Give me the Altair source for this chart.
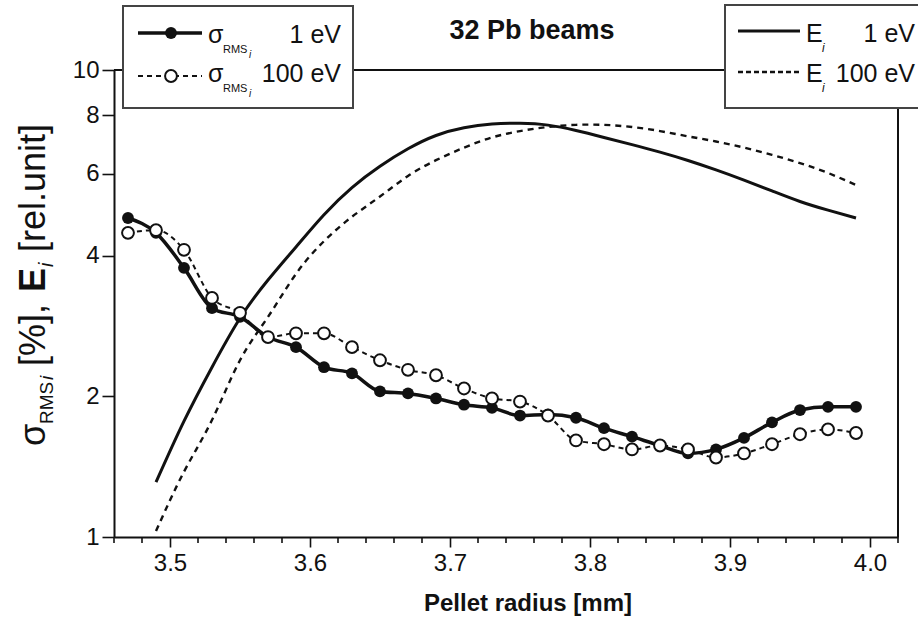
import altair as alt
import pandas as pd

# ---------------- data ----------------
radius_sigma = [3.47, 3.49, 3.51, 3.53, 3.55, 3.57, 3.59, 3.61, 3.63, 3.65, 3.67, 3.69, 3.71, 3.73,
                3.75, 3.77, 3.79, 3.81, 3.83, 3.85, 3.87, 3.89, 3.91, 3.93, 3.95, 3.97, 3.99]
sigma_1eV = [4.82, 4.48, 3.77, 3.09, 2.96, 2.68, 2.55, 2.31, 2.24, 2.05, 2.03, 1.98, 1.92, 1.89,
             1.82, 1.83, 1.80, 1.71, 1.64, 1.57, 1.51, 1.54, 1.63, 1.76, 1.87, 1.90, 1.90]
sigma_100eV = [4.48, 4.54, 4.12, 3.25, 3.02, 2.68, 2.73, 2.73, 2.55, 2.39, 2.28, 2.22, 2.08, 1.98,
               1.95, 1.82, 1.61, 1.58, 1.54, 1.57, 1.54, 1.48, 1.51, 1.58, 1.66, 1.70, 1.67]

radius_E = [3.49, 3.51, 3.53, 3.55, 3.57, 3.59, 3.61, 3.63, 3.65, 3.67, 3.69, 3.71, 3.73,
            3.75, 3.77, 3.79, 3.81, 3.83, 3.85, 3.87, 3.89, 3.91, 3.93, 3.95, 3.97, 3.99]
E_1eV = [1.31, 1.77, 2.31, 2.94, 3.55, 4.18, 4.90, 5.60, 6.22, 6.78, 7.24, 7.52, 7.66,
         7.69, 7.62, 7.42, 7.17, 6.92, 6.67, 6.40, 6.11, 5.81, 5.51, 5.23, 5.01, 4.82]
E_100eV = [1.03, 1.38, 1.78, 2.39, 2.96, 3.66, 4.30, 4.85, 5.36, 5.93, 6.41, 6.82, 7.17,
           7.40, 7.55, 7.63, 7.63, 7.55, 7.40, 7.21, 7.03, 6.82, 6.58, 6.32, 6.02, 5.67]

x_ticks = [3.46, 3.48, 3.50, 3.52, 3.54, 3.56, 3.58, 3.60, 3.62, 3.64, 3.66, 3.68, 3.70, 3.72, 3.74,
           3.76, 3.78, 3.80, 3.82, 3.84, 3.86, 3.88, 3.90, 3.92, 3.94, 3.96, 3.98, 4.00, 4.02]
x_major = [3.5, 3.6, 3.7, 3.8, 3.9, 4.0]
y_ticks = [1, 2, 4, 6, 8, 10]

# ---------------- style ----------------
FONT = "Liberation Sans, Arial, sans-serif"
INK = "#111111"
OX, OY = 114, 70          # plot-area origin inside the 918x621 page
W, H = 784, 467


def px(x):
    return x - OX


def py(y):
    return y - OY


sig = pd.DataFrame({"r": radius_sigma, "s1": sigma_1eV, "s100": sigma_100eV})
edf = pd.DataFrame({"r": radius_E, "e1": E_1eV, "e100": E_100eV})
minor = pd.DataFrame({"r": [t for t in x_ticks if all(abs(t - m) > 1e-6 for m in x_major)]})
one = pd.DataFrame({"k": [0]})

x_axis = alt.Axis(values=x_major, format=".1f", tickSize=10,
                  tickWidth=1.6, tickColor=INK, domainColor=INK, domainWidth=2,
                  labelFont=FONT, labelFontSize=24, labelColor=INK, labelPadding=4,
                  labelFlush=False, labelOverlap=False, grid=False, title="")
y_axis = alt.Axis(values=y_ticks, format=".0f", tickSize=12, tickWidth=1.6, tickColor=INK,
                  domainColor=INK, domainWidth=2, labelFont=FONT, labelFontSize=24,
                  labelColor=INK, labelPadding=3, grid=False, title="")
xs = alt.Scale(domain=[3.46, 4.02], nice=False, zero=False)
ys = alt.Scale(type="log", domain=[1, 10], nice=False)


def X():
    return alt.X("r:Q", scale=xs, axis=x_axis)


def Y(f):
    return alt.Y(f"{f}:Q", scale=ys, axis=y_axis)


minor_ticks = alt.Chart(minor).mark_rule(color=INK, strokeWidth=1.6).encode(
    x=X(), y=alt.value(H), y2=alt.value(H + 6))
e1_line = alt.Chart(edf).mark_line(color=INK, strokeWidth=3, interpolate="natural").encode(x=X(), y=Y("e1"))
e100_line = alt.Chart(edf).mark_line(color=INK, strokeWidth=2.4, strokeDash=[6, 5],
                                     interpolate="natural").encode(x=X(), y=Y("e100"))
s1_line = alt.Chart(sig).mark_line(color=INK, strokeWidth=3.5, interpolate="monotone").encode(x=X(), y=Y("s1"))
s1_pts = alt.Chart(sig).mark_point(shape="circle", filled=True, color=INK, size=140, opacity=1).encode(x=X(), y=Y("s1"))
s100_line = alt.Chart(sig).mark_line(color=INK, strokeWidth=2, strokeDash=[5, 4],
                                     interpolate="monotone").encode(x=X(), y=Y("s100"))
s100_pts = alt.Chart(sig).mark_point(shape="circle", filled=True, fill="white", stroke=INK,
                                     strokeWidth=2, size=140, opacity=1).encode(x=X(), y=Y("s100"))


def text(s, x, y, size, weight="normal", style="normal", angle=0, align="left"):
    return alt.Chart(one).mark_text(text=s, font=FONT, fontSize=size, fontWeight=weight,
                                    fontStyle=style, angle=angle, align=align,
                                    baseline="alphabetic", color=INK).encode(
        x=alt.value(px(x)), y=alt.value(py(y)))


def hline(x1, x2, y, width=2, dash=None, color=INK):
    kw = dict(color=color, strokeWidth=width)
    if dash:
        kw["strokeDash"] = dash
    return alt.Chart(one).mark_rule(**kw).encode(x=alt.value(px(x1)), x2=alt.value(px(x2)),
                                                 y=alt.value(py(y)))


def vline(x, y1, y2, width=2, color=INK):
    return alt.Chart(one).mark_rule(color=color, strokeWidth=width).encode(
        x=alt.value(px(x)), y=alt.value(py(y1)), y2=alt.value(py(y2)))


def box(x1, y1, x2, y2):
    return alt.Chart(one).mark_rect(fill="white", stroke="#444444", strokeWidth=2).encode(
        x=alt.value(px(x1)), x2=alt.value(px(x2)), y=alt.value(py(y1)), y2=alt.value(py(y2)))


def dot(x, y, open_=False):
    if open_:
        m = alt.Chart(one).mark_point(shape="circle", filled=True, fill="white", stroke=INK,
                                      strokeWidth=2, size=140, opacity=1)
    else:
        m = alt.Chart(one).mark_point(shape="circle", filled=True, color=INK, size=140, opacity=1)
    return m.encode(x=alt.value(px(x)), y=alt.value(py(y)))


# frame (top and right)
frame = [hline(114, 898, 70), vline(898, 70, 537)]

# left legend box
left_legend = [
    box(123, 6, 353, 108),
    hline(138, 202, 33, width=3.5), dot(171, 33),
    text("σ", 208, 43, 25), text("RMS", 223, 53, 11), text("i", 249, 58, 10, style="italic"),
    text("1 eV", 341, 43, 25, align="right"),
    hline(138, 202, 76, width=2, dash=[5, 4]), dot(171, 76, open_=True),
    text("σ", 208, 82, 25), text("RMS", 223, 92, 11), text("i", 249, 97, 10, style="italic"),
    text("100 eV", 341, 82, 25, align="right"),
]

# right legend box (runs off the page edge as in the reference)
right_legend = [
    box(725, 5, 935, 108),
    hline(738, 800, 31, width=3),
    text("E", 806, 42, 25), text("i", 822, 52, 12, style="italic"),
    text("1 eV", 915, 42, 25, align="right"),
    hline(738, 800, 72, width=2.4, dash=[5, 3]),
    text("E", 806, 82, 25), text("i", 822, 92, 12, style="italic"),
    text("100 eV", 915, 82, 25, align="right"),
]

# titles
titles = [
    text("32 Pb beams", 532, 39, 27, weight="bold", align="center"),
    text("Pellet radius [mm]", 528, 611, 24, weight="bold", align="center"),
]

# rotated y title: σ_RMS i [%], E_i [rel.unit]
YB = 45
ytitle = [
    text("σ", YB, 446, 36, angle=270),
    text("RMS", YB + 8, 424, 19, angle=270),
    text("i", YB + 8, 380, 19, style="italic", angle=270),
    text("[%],", YB, 366, 36, angle=270),
    text("E", YB, 292, 36, weight="bold", angle=270),
    text("i", YB + 8, 267, 20, style="italic", angle=270),
    text("[rel.unit]", YB, 252, 36, angle=270),
]

chart = alt.layer(
    minor_ticks, e1_line, e100_line, s1_line, s1_pts, s100_line, s100_pts,
    *frame, *left_legend, *right_legend, *titles, *ytitle
).properties(
    width=W, height=H,
    autosize=alt.AutoSizeParams(type="none"),
    padding={"left": OX, "top": OY, "right": 918 - OX - W, "bottom": 621 - OY - H},
    background="white",
).configure_view(stroke=None)

chart.save("out.html", embed_options={"renderer": "svg", "actions": False})
